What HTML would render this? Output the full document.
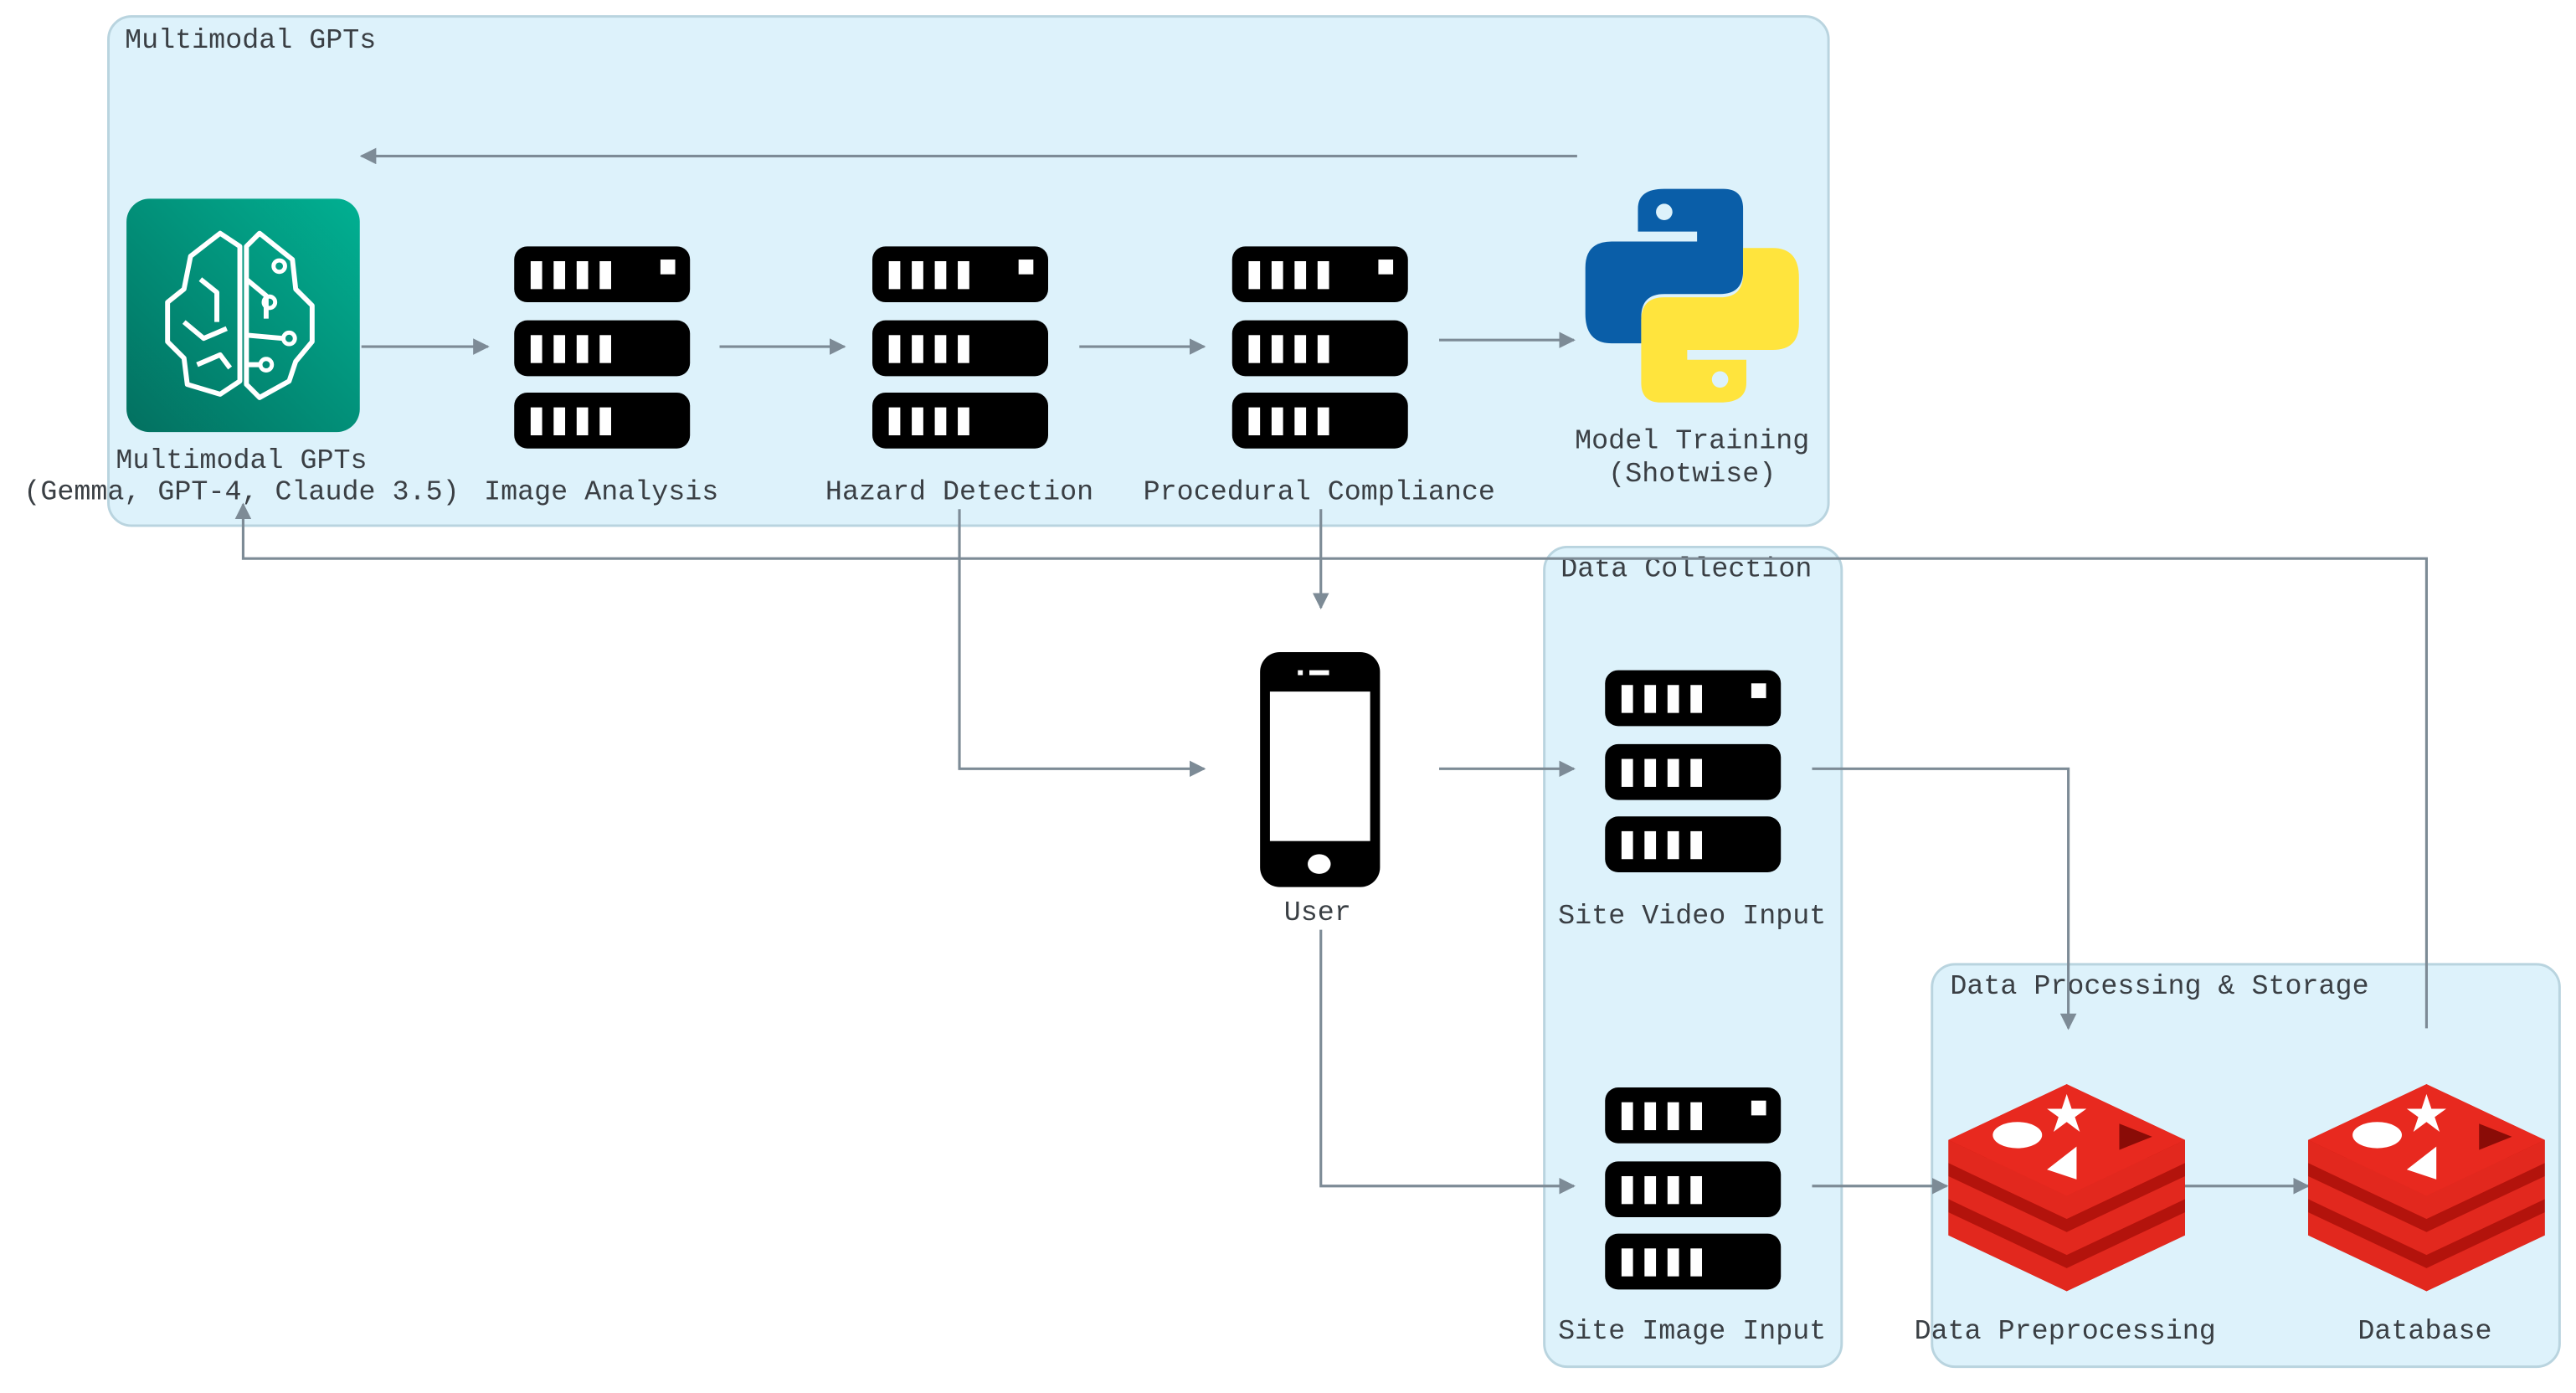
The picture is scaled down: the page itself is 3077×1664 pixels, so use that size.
<!DOCTYPE html>
<html><head><meta charset="utf-8"><style>
html,body{margin:0;padding:0;background:#fff}
svg{display:block}
text{font-family:"Liberation Mono",monospace;font-size:17px;fill:#3a3f44}
</style></head><body>
<svg width="3077" height="1664" viewBox="0 0 1568 848" preserveAspectRatio="none" xmlns="http://www.w3.org/2000/svg">
<defs>
<linearGradient id="tg" x1="1" y1="0" x2="0" y2="1"><stop offset="0" stop-color="#01b092"/><stop offset="1" stop-color="#037060"/></linearGradient>
<marker id="ar" markerWidth="10" markerHeight="10" refX="9" refY="5" orient="auto" markerUnits="userSpaceOnUse"><path d="M0,0 L10,5 L0,10 z" fill="#7d8b96"/></marker>
<g id="srv">
<rect x="0" y="0" width="107" height="34" rx="8" fill="#000"/>
<rect x="0" y="45" width="107" height="34" rx="8" fill="#000"/>
<rect x="0" y="89" width="107" height="34" rx="8" fill="#000"/>
<g fill="#fff">
<rect x="10" y="9" width="7" height="17"/><rect x="24" y="9" width="7" height="17"/><rect x="38" y="9" width="7" height="17"/><rect x="52" y="9" width="7" height="17"/><rect x="89" y="8" width="9" height="9"/>
<rect x="10" y="54" width="7" height="17"/><rect x="24" y="54" width="7" height="17"/><rect x="38" y="54" width="7" height="17"/><rect x="52" y="54" width="7" height="17"/>
<rect x="10" y="98" width="7" height="17"/><rect x="24" y="98" width="7" height="17"/><rect x="38" y="98" width="7" height="17"/><rect x="52" y="98" width="7" height="17"/>
</g></g>
<g id="redis">
<polygon points="0,34 72,0 144,34 144,92 72,126 0,92" fill="#c4170f"/>
<polygon points="0,78 72,44 144,78 144,92 72,126 0,92" fill="#e2281e"/>
<polygon points="0,56 72,22 144,56 144,70 72,104 0,70" fill="#e2281e"/>
<polygon points="0,70 72,104 144,70 144,78 72,112 0,78" fill="#b3130c"/>
<polygon points="0,48 72,82 144,48 144,56 72,90 0,56" fill="#b3130c"/>
<polygon points="0,34 72,0 144,34 72,68" fill="#e8291f"/>
<polygon points="0,34 72,68 144,34 144,48 72,82 0,48" fill="#e2281e"/>
<ellipse cx="42" cy="31" rx="15" ry="8" fill="#fff"/>
<polygon points="72,6 75,15 84,15 77,20 80,29 72,23 64,29 67,20 60,15 69,15" fill="#fff"/>
<polygon points="60,52 78,38 78,58" fill="#fff"/>
<polygon points="104,24 124,32 104,40" fill="#8a0c07"/>
</g>
</defs>
<!-- groups -->
<rect x="66" y="10" width="1047" height="310" rx="14" fill="#ddf2fb" stroke="#b9d4df" stroke-width="1.5"/>
<rect x="940" y="333" width="181" height="499" rx="14" fill="#ddf2fb" stroke="#b9d4df" stroke-width="1.5"/>
<rect x="1176" y="587" width="382" height="245" rx="14" fill="#ddf2fb" stroke="#b9d4df" stroke-width="1.5"/>
<text x="76" y="29">Multimodal GPTs</text>
<text x="950" y="351">Data Collection</text>
<text x="1187" y="605">Data Processing &amp; Storage</text>
<!-- edges -->
<g stroke="#7d8b96" stroke-width="1.6" fill="none" marker-end="url(#ar)">
<path d="M960,95 H220"/>
<path d="M220,211 H297"/>
<path d="M438,211 H514"/>
<path d="M657,211 H733"/>
<path d="M876,207 H958"/>
<path d="M584,310 V468 H733"/>
<path d="M804,310 V370"/>
<path d="M876,468 H958"/>
<path d="M1103,468 H1259 V626"/>
<path d="M804,566 V722 H958"/>
<path d="M1103,722 H1185"/>
<path d="M1330,722 H1405"/>
<path d="M1477,626 V340 H148 V307"/>
</g>
<!-- brain -->
<rect x="77" y="121" width="142" height="142" rx="14" fill="url(#tg)"/>
<g stroke="#fff" stroke-width="3" fill="none" stroke-linejoin="round">
<path d="M146,150 L134,142 L116,156 L112,176 L102,184 L102,208 L112,218 L114,234 L134,240 L146,232 Z"/>
<path d="M150,150 L158,142 L178,158 L180,176 L190,186 L190,208 L180,220 L176,232 L158,242 L150,234 Z"/>
<path d="M122,170 L132,178 L132,196 M112,196 L124,206 L138,200 M120,222 L134,216 L140,224"/>
<path d="M150,170 L162,180 L162,194 M150,204 L172,206 M150,222 L158,222"/>
</g>
<g fill="none" stroke="#fff" stroke-width="2.5"><circle cx="164" cy="184" r="3.5"/><circle cx="176" cy="206" r="3.5"/><circle cx="162" cy="222" r="3.5"/><circle cx="170" cy="162" r="3.5"/></g>
<!-- servers -->
<use href="#srv" x="313" y="150"/>
<use href="#srv" x="531" y="150"/>
<use href="#srv" x="750" y="150"/>
<use href="#srv" x="977" y="408"/>
<use href="#srv" x="977" y="662"/>
<!-- python -->
<g transform="translate(965,115)">
<path d="M48,0 H84 Q96,0 96,12 V50 Q96,64 82,64 H48 Q34,64 34,78 V94 H16 Q0,94 0,76 V48 Q0,32 16,32 H68 V26 H32 V12 Q32,0 48,0 Z" fill="#0a5ea8"/>
<circle cx="48" cy="14" r="5" fill="#ddf2fb"/>
<g transform="rotate(180,65,65)">
<path d="M48,0 H84 Q96,0 96,12 V50 Q96,64 82,64 H48 Q34,64 34,78 V94 H16 Q0,94 0,76 V48 Q0,32 16,32 H68 V26 H32 V12 Q32,0 48,0 Z" fill="#ffe43d"/>
<circle cx="48" cy="14" r="5" fill="#ddf2fb"/>
</g></g>
<!-- phone -->
<rect x="767" y="397" width="73" height="143" rx="12" fill="#000"/>
<rect x="773" y="421" width="61" height="91" fill="#fff"/>
<rect x="797" y="408" width="12" height="3" fill="#fff"/><rect x="790" y="408" width="3" height="3" fill="#fff"/>
<ellipse cx="803" cy="526" rx="7" ry="6" fill="#fff"/>
<!-- redis -->
<use href="#redis" x="1186" y="660"/>
<use href="#redis" x="1405" y="660"/>
<!-- labels -->
<g text-anchor="middle">
<text x="147" y="285">Multimodal GPTs</text>
<text x="147" y="304">(Gemma, GPT-4, Claude 3.5)</text>
<text x="366" y="304">Image Analysis</text>
<text x="584" y="304">Hazard Detection</text>
<text x="803" y="304">Procedural Compliance</text>
<text x="1030" y="273">Model Training</text>
<text x="1030" y="293">(Shotwise)</text>
<text x="802" y="560">User</text>
<text x="1030" y="562">Site Video Input</text>
<text x="1030" y="815">Site Image Input</text>
<text x="1257" y="815">Data Preprocessing</text>
<text x="1476" y="815">Database</text>
</g>
</svg>
</body></html>
